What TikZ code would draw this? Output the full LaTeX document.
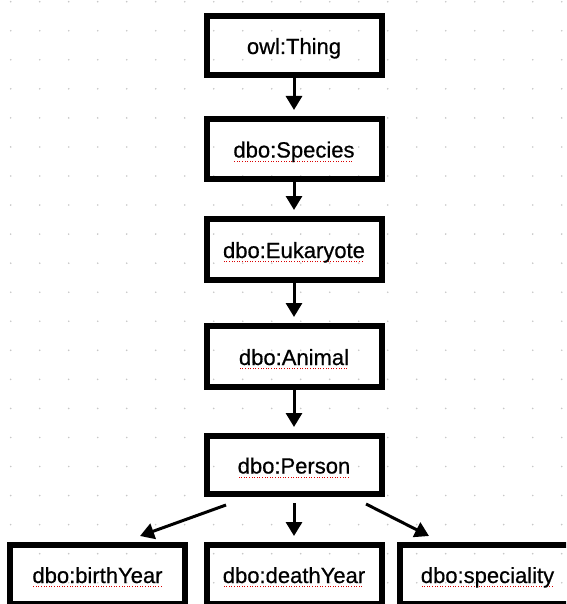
\documentclass[tikz,border=0pt]{standalone}
\usepackage{fontspec}
\setmainfont{Liberation Sans}
\newfontfamily\boxfont[FakeBold=0.6]{Liberation Sans}
\usetikzlibrary{arrows.meta}
\usepackage{xcolor}

% red dotted spell-check mark under a word
\newcommand\typo[1]{\setbox0\hbox{#1}\rlap{\color{red!85!black}\raisebox{-4pt}{\hbox to \wd0{\leaders\hbox to 2.6pt{\hss\rule{1pt}{1pt}\hss}\hfill}}}\box0}

\begin{document}
\begin{tikzpicture}[x=1pt,y=-1pt,
  box/.style={rectangle, draw, line width=6pt, minimum width=175pt, minimum height=#1,
    inner sep=0pt, text height=17pt, text depth=0pt, font=\boxfont\fontsize{22}{26}\selectfont},
  box/.default=59pt,
  link/.style={-{Triangle[width=16pt,length=14pt]}, line width=3pt, shorten >=6pt}]
  \useasboundingbox (0,0) rectangle (566,604);
  \clip (0,0) rectangle (566,604);
  % dot grid
  \foreach \i in {0,...,19}
    \foreach \j in {0,...,20}
      \fill[black!22] (10.7+29*\i, 1.7+29.05*\j) circle (0.9pt);
  % class chain
  \node[box]       (thing)   at (294,45.5)  {owl:Thing};
  \node[box=60pt]  (species) at (294,149)   {\typo{dbo:Species}};
  \node[box=61pt]  (euk)     at (294,249.5) {\typo{dbo:Eukaryote}};
  \node[box=61pt]  (animal)  at (294,356.5) {\typo{dbo:Animal}};
  \node[box=58pt]  (person)  at (294,465)   {\typo{dbo:Person}};
  % properties
  \node[box]       (birth)   at (97.5,574.5)  {\typo{dbo:birthYear}};
  \node[box]       (death)   at (294,574.5)   {\typo{dbo:deathYear}};
  \node[box]       (spec)    at (487.5,574.5) {\typo{dbo:speciality}};
  \draw[link] (thing)   -- (species);
  \draw[link] (species) -- (euk);
  \draw[link] (euk)     -- (animal);
  \draw[link] (animal)  -- (person);
  \draw[link] ([yshift=-6pt]person.south) -- (death);
  \draw[link, shorten >=0pt] ([xshift=-68pt,yshift=-8pt]person.south) -- ([xshift=42.5pt,yshift=6pt]birth.north);
  \draw[link, shorten >=0pt] ([xshift=72pt,yshift=-7pt]person.south) -- ([xshift=-58.5pt,yshift=6pt]spec.north);
\end{tikzpicture}
\end{document}
